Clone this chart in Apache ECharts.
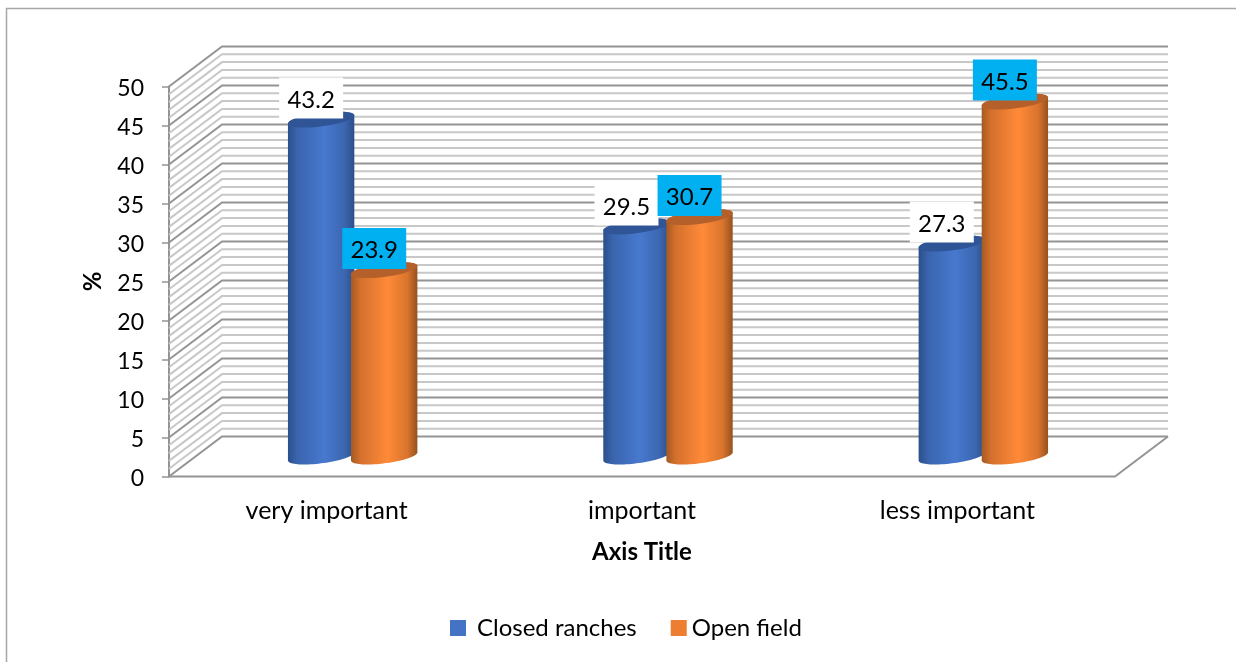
<!DOCTYPE html>
<html>
<head>
<meta charset="utf-8">
<style>html,body{margin:0;padding:0;background:#fff}#chart{width:1236px;height:662px}</style>
<script src="https://cdn.jsdelivr.net/npm/echarts@6/dist/echarts.min.js"></script>
</head>
<body>
<div id="chart"></div>
<script>
// Survey shares (%) by importance rating and housing system
const categories = ['very important', 'important', 'less important'];
const closedRanches = [43.2, 29.5, 27.3];
const openField = [23.9, 30.7, 45.5];
const FONT = 'Lato, "Open Sans", sans-serif';

// Box depth of the pseudo-3D walls, in pixels
const DEPTH_X = 53, DEPTH_Y = 40;
// Where the cylinders stand within that depth
const MID_X = 26, MID_Y = 20;
// Cylinder cross-section on screen
const ELLIPSE_A = 28.5, ELLIPSE_SKEW_X = 17, ELLIPSE_SKEW_Y = 8;
const BAR_BAND_SHARE = 0.2;

const wallLevels = [];
for (let v = 0; v <= 50; v++) wallLevels.push(v);

function stops(list) {
  return new echarts.graphic.LinearGradient(0, 0, 1, 0,
    list.map(function (c) { return { offset: c[0], color: c[1] }; }));
}
const blueSide = [[0, '#2b4f8b'], [0.14, '#3a64ad'], [0.55, '#4779cf'], [0.85, '#3c66b0'], [1, '#2c4f8a']];
const orangeSide = [[0, '#a45a22'], [0.14, '#d4702d'], [0.55, '#ff8a38'], [0.85, '#d9742e'], [1, '#97511d']];

// Point on the skewed ellipse of a cylinder cap
function capPoint(cx, cy, t) {
  return [cx + ELLIPSE_A * Math.cos(t) + ELLIPSE_SKEW_X * Math.sin(t),
          cy - ELLIPSE_SKEW_Y * Math.sin(t)];
}
function arc(cx, cy, from, to) {
  const pts = [];
  for (let i = 0; i <= 40; i++) pts.push(capPoint(cx, cy, from + (to - from) * i / 40));
  return pts;
}

function cylinderRenderer(side, capColor, labelFill, sign) {
  return function (params, api) {
    const i = api.value(0), v = api.value(1);
    const band = api.size([1, 0])[0];
    const w = band * BAR_BAND_SHARE;
    const top = api.coord([i, v]);
    const base = api.coord([i, 0]);
    const cx = top[0] + MID_X + sign * w / 2;
    const topY = top[1] - MID_Y, baseY = base[1] - MID_Y;
    // Silhouette tangent angle of the skewed ellipse
    const t0 = Math.atan2(ELLIPSE_SKEW_X, ELLIPSE_A);
    const body = arc(cx, baseY, Math.PI + t0, 2 * Math.PI + t0)
      .concat(arc(cx, topY, t0, Math.PI + t0));
    const cap = arc(cx, topY, 0, 2 * Math.PI);
    const boxW = 64, boxH = 41;
    const boxX = cx - 10 - boxW / 2, boxY = topY - 1 - boxH;
    return {
      type: 'group',
      children: [
        { type: 'polygon', shape: { points: body }, style: { fill: stops(side) } },
        { type: 'polygon', shape: { points: cap }, style: { fill: capColor }, z2: 1 },
        { type: 'rect', shape: { x: boxX, y: boxY, width: boxW, height: boxH }, style: { fill: labelFill }, z2: 100 },
        { type: 'text', x: boxX + boxW / 2, y: boxY + boxH / 2 + 2,
          style: { text: v.toFixed(1), fill: '#000', font: '24px ' + FONT, align: 'center', verticalAlign: 'middle' }, z2: 101 }
      ]
    };
  };
}

function wallRenderer(params, api) {
  const v = api.value(0);
  const cs = params.coordSys;
  const y = api.coord([0, v])[1];
  const left = cs.x, right = cs.x + cs.width;
  const major = v % 5 === 0;
  const children = [];
  if (v === 0) {
    children.push({ type: 'polyline',
      shape: { points: [[left, y], [right, y], [right + DEPTH_X, y - DEPTH_Y]] },
      style: { fill: 'none', stroke: '#949494', lineWidth: 2 } });
  }
  children.push({ type: 'polyline',
    shape: { points: [[left, y], [left + DEPTH_X, y - DEPTH_Y], [right + DEPTH_X, y - DEPTH_Y]] },
    style: { fill: 'none', stroke: major ? '#949494' : '#c8c8c8', lineWidth: 2 }, z2: major ? 2 : 1 });
  return { type: 'group', children: children };
}

const chart = echarts.init(document.getElementById('chart'), null, { renderer: 'canvas' });
chart.setOption({
  animation: false,
  backgroundColor: '#fff',
  textStyle: { fontFamily: FONT },
  graphic: [{
    type: 'polyline', silent: true,
    shape: { points: [[6.5, 662], [6.5, 8.5], [1236, 8.5]] },
    style: { fill: 'none', stroke: '#a6a6a6', lineWidth: 1.5 }
  }],
  grid: { left: 169, right: 121, top: 86.5, bottom: 185.5, containLabel: false },
  legend: {
    left: 445, top: 611,
    itemWidth: 16, itemHeight: 16, itemGap: 34,
    icon: 'rect',
    data: [
      { name: 'Closed ranches', textStyle: { padding: [0, 0, 0, 6] } },
      { name: 'Open field', textStyle: { padding: [0, 0, 0, 0] } }
    ],
    textStyle: { fontSize: 24, color: '#000', fontFamily: FONT }
  },
  xAxis: {
    type: 'category', data: categories,
    axisLine: { show: false }, axisTick: { show: false },
    axisLabel: { fontSize: 25, color: '#000', margin: 22, fontFamily: FONT },
    name: 'Axis Title', nameLocation: 'middle', nameGap: 64,
    nameTextStyle: { fontSize: 24, fontWeight: 'bold', color: '#000', fontFamily: FONT }
  },
  yAxis: {
    type: 'value', min: 0, max: 50, interval: 5,
    axisLine: { show: true, lineStyle: { color: '#949494', width: 2 } },
    axisTick: { show: true, length: 7, lineStyle: { color: '#949494', width: 1.5 } },
    axisLabel: {
      margin: 25,
      formatter: '{tick|{value}}',
      rich: { tick: { fontSize: 23, color: '#000', fontFamily: FONT, padding: [4, 0, 0, 0] } }
    },
    splitLine: { show: false },
    name: '%', nameLocation: 'middle', nameGap: 64, nameRotate: 90,
    nameTextStyle: { fontSize: 24, fontWeight: 'bold', color: '#000', fontFamily: FONT }
  },
  series: [
    { type: 'custom', name: 'walls', z: 1, silent: true, clip: false,
      data: wallLevels.map(function (v) { return [v]; }),
      encode: { y: 0 }, renderItem: wallRenderer },
    { type: 'custom', name: 'Closed ranches', z: 3, clip: false,
      itemStyle: { color: '#4472c4' },
      data: closedRanches.map(function (v, i) { return [i, v]; }),
      encode: { x: 0, y: 1 },
      renderItem: cylinderRenderer(blueSide, '#2f5597', '#ffffff', -1) },
    { type: 'custom', name: 'Open field', z: 4, clip: false,
      itemStyle: { color: '#ed7d31' },
      data: openField.map(function (v, i) { return [i, v]; }),
      encode: { x: 0, y: 1 },
      renderItem: cylinderRenderer(orangeSide, '#b5602a', '#00b0f0', 1) }
  ]
});
</script>
</body>
</html>
